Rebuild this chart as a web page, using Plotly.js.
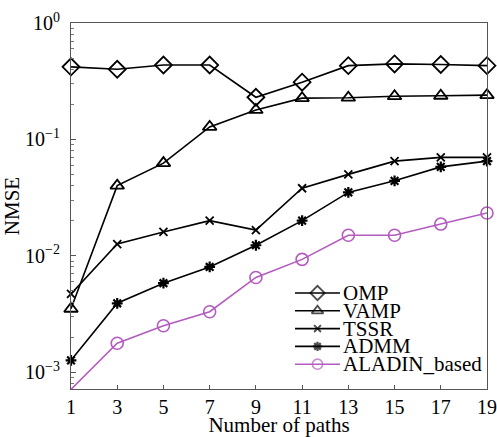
<!DOCTYPE html>
<html>
<head>
<meta charset="utf-8">
<script src="https://cdn.plot.ly/plotly-3.0.1.min.js"></script>
<style>html,body{margin:0;padding:0;background:#fff;}#chart{width:497px;height:437px;}</style>
</head>
<body>
<div id="chart"></div>
<script>
const paths = [1, 3, 5, 7, 9, 11, 13, 15, 17, 19];
const omp    = [0.42, 0.40, 0.435, 0.435, 0.23, 0.31, 0.43, 0.445, 0.44, 0.43];
const vamp   = [0.0035, 0.040, 0.0625, 0.128, 0.179, 0.226, 0.228, 0.235, 0.237, 0.24];
const tssr   = [0.0047, 0.0126, 0.016, 0.020, 0.0166, 0.038, 0.050, 0.065, 0.070, 0.070];
const admm   = [0.00126, 0.0039, 0.0058, 0.008, 0.0123, 0.020, 0.035, 0.044, 0.058, 0.065];
const aladin = [0.00071, 0.00177, 0.0025, 0.0033, 0.0065, 0.0093, 0.015, 0.015, 0.0187, 0.0233];
const seriesNames = ['OMP', 'VAMP', 'TSSR', 'ADMM', 'ALADIN_based'];
const yTickVals = [1e-3, 1e-2, 1e-1, 1];
const yTickText = ['10<sup>\u22123</sup>', '10<sup>\u22122</sup>', '10<sup>\u22121</sup>', '10<sup>0</sup>'];

const FONT = 'Liberation Serif, Times New Roman, serif';
const purple = '#b35bbf';
const styles = [
  {color: '#000', symbol: 'diamond-open', size: 13, mlw: 1.8},
  {color: '#000', symbol: 'triangle-up-open', size: 12, mlw: 1.8},
  {color: '#000', symbol: 'x-thin-open', size: 8, mlw: 1.8},
  {color: '#000', symbol: 'asterisk-open', size: 9, mlw: 2.2},
  {color: purple, symbol: 'circle-open', size: 12, mlw: 1.6}
];
const data = [omp, vamp, tssr, admm, aladin];

const traces = data.map((ys, i) => ({
  x: paths, y: ys, type: 'scatter', mode: 'lines+markers',
  name: seriesNames[i], showlegend: false, cliponaxis: false,
  line: {color: styles[i].color, width: 1.6},
  marker: {symbol: styles[i].symbol, size: styles[i].size, color: styles[i].color,
           line: {color: styles[i].color, width: styles[i].mlw}}
}));

// custom compact legend on an overlay axis measured in plot pixels
const legX0 = 224, legX1 = 269, legY0 = 270, legStep = 17.8;
const annotations = [];
seriesNames.forEach((nm, i) => {
  const yy = legY0 + i * legStep;
  traces.push({
    x: [legX0, (legX0 + legX1) / 2, legX1], y: [yy, yy, yy],
    xaxis: 'x2', yaxis: 'y2', type: 'scatter', mode: 'lines+markers',
    showlegend: false, hoverinfo: 'skip', cliponaxis: false,
    line: {color: styles[i].color, width: 1.6},
    marker: {symbol: styles[i].symbol, size: [0, styles[i].size * 0.85, 0], color: styles[i].color,
             line: {color: styles[i].color, width: styles[i].mlw}}
  });
  annotations.push({
    xref: 'x2', yref: 'y2', x: legX1 + 1, y: yy, text: nm, showarrow: false,
    xanchor: 'left', yanchor: 'middle', font: {family: FONT, size: 21, color: '#000'}
  });
});

const layout = {
  width: 497, height: 437,
  margin: {l: 71, r: 10, t: 23, b: 48},
  paper_bgcolor: '#fff', plot_bgcolor: '#fff',
  font: {family: FONT, color: '#000'},
  showlegend: false,
  xaxis: {
    range: [1, 19], tickvals: paths, ticks: 'inside', ticklen: 4, tickcolor: '#555',
    showline: true, linecolor: '#555', linewidth: 1, mirror: true, showgrid: false, zeroline: false,
    tickfont: {family: FONT, size: 20, color: '#000'},
    title: {text: 'Number of paths', font: {family: FONT, size: 21, color: '#000'}, standoff: 6}
  },
  yaxis: {
    type: 'log', range: [Math.log10(7.15e-4), 0],
    tickvals: yTickVals, ticktext: yTickText,
    ticks: 'inside', ticklen: 5, tickcolor: '#555',
    minor: {ticks: 'inside', ticklen: 3, tickcolor: '#777', dtick: 'D1', showgrid: false},
    showline: true, linecolor: '#555', linewidth: 1, mirror: true, showgrid: false, zeroline: false,
    tickfont: {family: FONT, size: 20, color: '#000'}, ticklabelstandoff: 6,
    title: {text: 'NMSE', font: {family: FONT, size: 21, color: '#000'}, standoff: 0}
  },
  xaxis2: {overlaying: 'x', range: [0, 416], visible: false, fixedrange: true},
  yaxis2: {overlaying: 'y', range: [366, 0], visible: false, fixedrange: true},
  annotations: annotations
};

Plotly.newPlot('chart', traces, layout, {displayModeBar: false, staticPlot: true});
</script>
</body>
</html>
